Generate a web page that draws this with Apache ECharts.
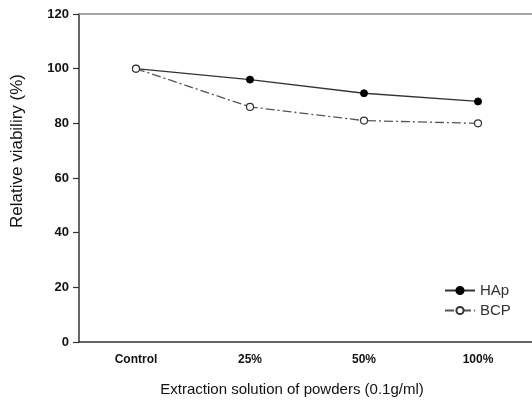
<!DOCTYPE html>
<html>
<head>
<meta charset="utf-8">
<script src="https://cdn.jsdelivr.net/npm/echarts@6/dist/echarts.min.js"></script>
<style>html,body{margin:0;padding:0;background:#fff}#c{width:532px;height:401px}</style>
</head>
<body>
<div id="c"></div>
<script>
const categories = ['Control', '25%', '50%', '100%'];
const hapValues = [100, 96, 91, 88];
const bcpValues = [100, 86, 81, 80];
const yTicks = { min: 0, max: 120, interval: 20 };

const chart = echarts.init(document.getElementById('c'), null, { renderer: 'canvas' });
const font = '"Liberation Sans", Arial, sans-serif';
chart.setOption({
  animation: false,
  backgroundColor: '#fff',
  grid: { left: 79, width: 456, top: 14, bottom: 59, show: false, outerBoundsMode: 'none', containLabel: false },
  legend: {
    left: 439, top: 278, orient: 'vertical', itemWidth: 30, itemHeight: 9, itemGap: 5,
    textStyle: { fontFamily: font, fontSize: 15, color: '#333' },
    data: ['HAp', 'BCP']
  },
  xAxis: [{
    type: 'category', data: categories, boundaryGap: true,
    name: 'Extraction solution of powders (0.1g/ml)', nameLocation: 'middle', nameGap: 40,
    nameTextStyle: { fontFamily: font, fontSize: 15, color: '#111', padding: [0, 30, 0, 0] },
    axisLine: { lineStyle: { color: '#333', width: 1.5 } },
    axisTick: { alignWithLabel: true, length: 4, lineStyle: { color: '#333', width: 1.5 } },
    axisLabel: { fontFamily: font, fontSize: 12, fontWeight: 'bold', color: '#111', margin: 12 },
    splitLine: { show: false }
  }, {
    type: 'category', data: categories, position: 'top',
    axisLine: { show: true, lineStyle: { color: '#888', width: 1.5 } },
    axisTick: { show: false }, axisLabel: { show: false }, splitLine: { show: false }
  }],
  yAxis: {
    type: 'value', min: yTicks.min, max: yTicks.max, interval: yTicks.interval,
    name: 'Relative viabiliry (%)', nameLocation: 'middle', nameGap: 53, nameRotate: 90,
    nameTextStyle: { fontFamily: font, fontSize: 17, color: '#111', padding: [0, 0, 0, 54] },
    axisLine: { show: true, lineStyle: { color: '#333', width: 1.5 } },
    axisTick: { show: true, length: 6, lineStyle: { color: '#333', width: 1.2 } },
    axisLabel: { fontFamily: font, fontSize: 13, fontWeight: 'bold', color: '#111', margin: 10 },
    splitLine: { show: false }
  },
  series: [
    {
      name: 'HAp', type: 'line', data: hapValues, symbol: 'circle', symbolSize: 7,
      lineStyle: { color: '#333', width: 1.3, type: 'solid' },
      itemStyle: { color: '#000', borderColor: '#000', borderWidth: 1 }, z: 2
    },
    {
      name: 'BCP', type: 'line', data: bcpValues, symbol: 'circle', symbolSize: 7,
      lineStyle: { color: '#555', width: 1.3, type: [9, 3, 2, 3] },
      itemStyle: { color: '#fff', borderColor: '#333', borderWidth: 1.2 }, z: 3
    }
  ]
});
</script>
</body>
</html>
